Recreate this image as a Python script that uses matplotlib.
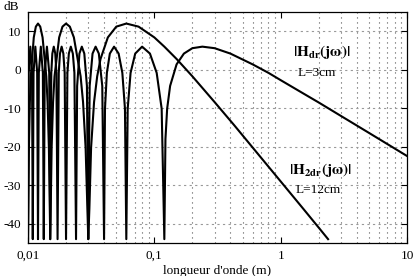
import matplotlib
matplotlib.use('Agg')
import matplotlib.pyplot as plt
from matplotlib.ticker import LogLocator, NullFormatter, FixedLocator

plt.rcParams['font.family'] = ['Liberation Serif', 'DejaVu Serif']
plt.rcParams['mathtext.fontset'] = 'stix'

# courbe a lobes de 12 dB
lam_a = [0.01, 0.010169, 0.010345, 0.010526, 0.011111, 0.011538, 0.012, 0.0125, 0.013043,
         0.013953, 0.014286, 0.014634,
         0.015, 0.015385, 0.015789, 0.016216, 0.017647, 0.01875, 0.02, 0.021429, 0.023077,
         0.026087, 0.027273, 0.028571,
         0.03, 0.030612, 0.031579, 0.033333, 0.035294, 0.0375, 0.042857, 0.05, 0.06, 0.075,
         0.1, 0.12, 0.15, 0.2, 0.3, 0.42857, 0.6, 1.0, 1.5, 2.0, 2.373]
db_a = [-44, -20.2, -8.4, -1.7, 8.4, 11.2, 12.0, 11.2, 8.4,
        -1.7, -8.4, -20.2,
        -44, -20.2, -8.4, -1.7, 8.4, 11.2, 12.0, 11.2, 8.4,
        -1.7, -8.4, -20.2,
        -44, -36.0, -20.2, -8.4, -1.7, 2.8, 8.4, 11.2, 12.0, 11.2,
        8.4, 6.0, 2.8, -1.7, -8.4, -14.4, -20.2, -29.0, -36.0, -41.0, -44]

# courbe a lobes de 6 dB
lam_b = [0.01, 0.01013, 0.01043, 0.01076,
         0.01091, 0.01106, 0.01143, 0.01182,
         0.012, 0.01218, 0.01263, 0.01311,
         0.01333, 0.01356, 0.01412, 0.01472,
         0.015, 0.01529, 0.015584, 0.016, 0.016438, 0.01678,
         0.01714, 0.01752, 0.01791, 0.01846, 0.019048, 0.01951,
         0.02, 0.02051, 0.021053, 0.02182, 0.022642, 0.0233,
         0.024, 0.02449, 0.02553, 0.02667, 0.02791, 0.02927,
         0.03, 0.03077, 0.03243, 0.03429, 0.03636, 0.03871,
         0.04, 0.04068, 0.04211, 0.04444, 0.048, 0.05217, 0.05581, 0.05854,
         0.06, 0.06154, 0.06486, 0.07059, 0.08, 0.09231, 0.10435, 0.11429,
         0.12, 0.12245, 0.12632, 0.13333, 0.15, 0.17143, 0.2, 0.24, 0.3, 0.4, 0.6, 0.8,
         1.0, 1.5, 2.0, 3.0, 5.0, 10.0]
db_b = [-44, -0.8, 6.0, -0.8,
        -44, -0.8, 6.0, -0.8,
        -44, -0.8, 6.0, -0.8,
        -44, -0.8, 6.0, -0.8,
        -44, -0.8, 4.2, 6.0, 4.2, -0.8,
        -44, -0.8, 4.2, 6.0, 4.2, -0.8,
        -44, -0.8, 4.2, 6.0, 4.2, -0.8,
        -44, -4.2, 4.2, 6.0, 4.2, -4.2,
        -44, -4.2, 4.2, 6.0, 4.2, -4.2,
        -44, -10.1, -0.8, 4.2, 6.0, 4.2, -0.8, -10.1,
        -44, -10.1, -0.8, 4.2, 6.0, 4.2, -0.8, -10.1,
        -44, -18.0, -10.1, -4.2, 1.4, 4.2, 5.6, 6.0, 5.6, 4.2, 1.4, -0.8,
        -2.7, -6.1, -8.5, -12.0, -16.4, -22.4]

x_ticks = [0.01, 0.1, 1, 10]
x_tick_labels = ['0,01', '0,1', '1', '10']
y_ticks = [-40, -30, -20, -10, 0, 10]
y_tick_labels = ['-40', '-30', '-20', '-10', '0', '10']

W, H = 413, 276
fig = plt.figure(figsize=(W / 100, H / 100), dpi=100)
ax = fig.add_axes([28 / W, 33 / H, 379 / W, 231 / H])

ax.plot(lam_a, db_a, color='black', lw=1.5)
ax.plot(lam_b, db_b, color='black', lw=1.5)

ax.set_xscale('log')
ax.set_xlim(0.01, 10)
ax.set_ylim(-45, 15)

ax.xaxis.set_major_locator(FixedLocator(x_ticks))
ax.set_xticklabels(x_tick_labels)
ax.xaxis.set_minor_locator(LogLocator(base=10, subs=range(2, 10)))
ax.xaxis.set_minor_formatter(NullFormatter())
ax.set_yticks(y_ticks)
ax.set_yticklabels(y_tick_labels)

ax.tick_params(which='major', direction='in', length=4, width=0.8, top=True, right=True,
               labelsize=9.5, pad=5)
ax.tick_params(which='minor', length=0, top=True, right=True)

# grille
ax.grid(True, axis='x', which='minor', color='#555555', linestyle=(0, (1, 3.5)), lw=0.8)
ax.grid(True, axis='y', which='major', color='#999999', linestyle=(0, (2, 3)), lw=0.8)
ax.grid(False, axis='x', which='major')

for s in ax.spines.values():
    s.set_linewidth(0.9)

ax.set_xlabel("longueur d'onde (m)", fontsize=9.5, labelpad=2)
fig.text(3 / W, 1 - 1 / H, 'dB', fontsize=9.5, ha='left', va='top')

# etiquettes des courbes (positions en pixels depuis le haut)
fig.text(322 / W, 1 - 52 / H, r'$\mathbf{|H_{dr}(j\omega)|}$', fontsize=11,
         ha='center', va='center')
fig.text(317 / W, 1 - 73 / H, 'L=3cm', fontsize=9.5, ha='center', va='center')
fig.text(320 / W, 1 - 170 / H, r'$\mathbf{|H_{2dr}(j\omega)|}$', fontsize=11,
         ha='center', va='center')
fig.text(318 / W, 1 - 190 / H, 'L=12cm', fontsize=9.5, ha='center', va='center')

plt.savefig('out.png', dpi=100)
